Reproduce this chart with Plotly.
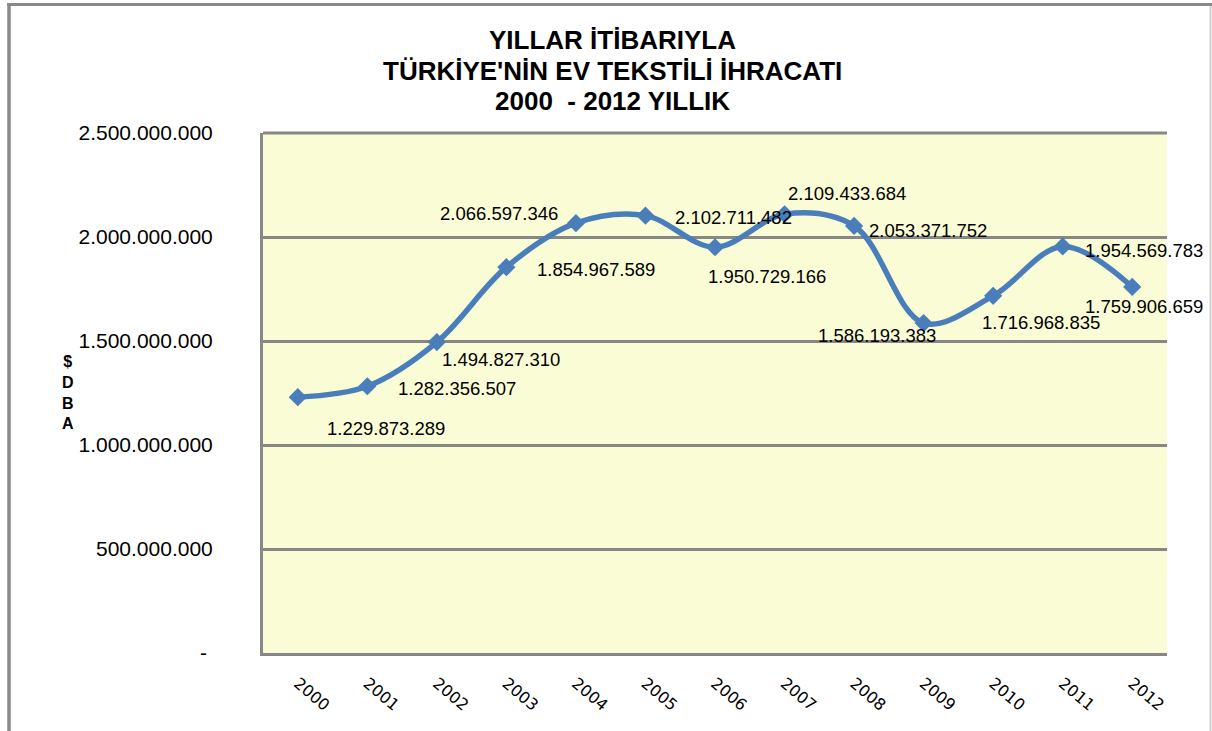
import plotly.graph_objects as go

# ---- data ----
years = ["2000", "2001", "2002", "2003", "2004", "2005", "2006",
         "2007", "2008", "2009", "2010", "2011", "2012"]
exports_usd = [1229873289, 1282356507, 1494827310, 1854967589, 2066597346,
               2102711482, 1950729166, 2109433684, 2053371752, 1586193383,
               1716968835, 1954569783, 1759906659]
y_tick_values = [0, 500000000, 1000000000, 1500000000, 2000000000, 2500000000]
title_lines = ["YILLAR İTİBARIYLA", "TÜRKİYE'NİN EV TEKSTİLİ İHRACATI", "2000  - 2012 YILLIK"]
y_title_letters = ["$", "D", "B", "A"]

# label offsets (pixels, right / down) relative to each point, as in the original
label_offsets = [(88, 31), (90, 2), (64, 17), (90, 2), (-77, -10), (88, 2), (52, 29),
                 (62, -21), (74, 5), (-47, 12), (48, 27), (81, 4), (12, 20)]

def dotted(v):
    return f"{v:,}".replace(",", ".")

y_tick_text = [dotted(v) if v else "-\u00a0" for v in y_tick_values]

W, H = 1212, 731
L, R, T, B = 263, 45, 133, 78
PW, PH = W - L - R, H - T - B

def px_x(p):
    return (p - L) / PW

def px_y(p):
    return (H - B - p) / PH

blue = "#4A7EBB"
grid = "#878787"
FONT = "Liberation Sans, Arial, sans-serif"

fig = go.Figure()
fig.add_trace(go.Scatter(
    x=list(range(len(years))), y=exports_usd, mode="lines+markers",
    line=dict(color=blue, width=5.5, shape="spline", smoothing=1.0),
    marker=dict(symbol="diamond", size=14, color=blue),
    showlegend=False, hoverinfo="y",
))

annotations = []
for i, (v, (dx, dy)) in enumerate(zip(exports_usd, label_offsets)):
    annotations.append(dict(
        x=i, y=v, xref="x", yref="y", text=dotted(v), showarrow=False,
        xshift=dx, yshift=-dy, xanchor="center", yanchor="middle",
        font=dict(family=FONT, size=18.5, color="black"),
    ))

# title: three lines centred at y = 40, 71, 101 px
for line, yy in zip(title_lines, [40, 71, 101]):
    annotations.append(dict(
        x=px_x(612), y=px_y(yy), xref="paper", yref="paper",
        text=line, showarrow=False,
        xanchor="center", yanchor="middle", align="center",
        font=dict(family=FONT, size=26, color="black", weight="bold"),
    ))

# stacked y-axis title ($DBA written letter under letter)
annotations.append(dict(
    x=px_x(67.5), y=px_y(392), xref="paper", yref="paper",
    text="<br>".join(y_title_letters), showarrow=False,
    xanchor="center", yanchor="middle", align="center",
    font=dict(family=FONT, size=16, color="black", weight="bold"),
))

shapes = [
    # top gridline of the plot area (2.500.000.000)
    dict(type="line", xref="paper", yref="paper", x0=0, x1=1, y0=1, y1=1,
         line=dict(color=grid, width=3)),
    # outer chart border
    dict(type="line", xref="paper", yref="paper", x0=px_x(9), x1=px_x(9), y0=px_y(3), y1=px_y(760),
         line=dict(color="#8a8a8a", width=3.5)),
    dict(type="line", xref="paper", yref="paper", x0=px_x(7), x1=px_x(1212), y0=px_y(4.5), y1=px_y(4.5),
         line=dict(color="#8a8a8a", width=3)),
    dict(type="line", xref="paper", yref="paper", x0=px_x(1210.5), x1=px_x(1210.5), y0=px_y(6), y1=px_y(760),
         line=dict(color="#cfcfcf", width=2)),
]

fig.update_layout(
    width=W, height=H,
    margin=dict(l=L, r=R, t=T, b=B, pad=0),
    paper_bgcolor="white",
    plot_bgcolor="#FAFCD5",
    xaxis=dict(
        range=[-0.5, 12.5],
        tickvals=list(range(len(years))), ticktext=years,
        showgrid=False, zeroline=False,
        showline=True, linecolor=grid, linewidth=3,
        ticks="", tickangle=40, ticklabelstandoff=12,
        tickfont=dict(family="DejaVu Sans, Verdana, sans-serif", size=16, color="black"),
    ),
    yaxis=dict(
        range=[0, 2500000000],
        tickvals=y_tick_values, ticktext=y_tick_text,
        showgrid=True, gridcolor=grid, gridwidth=3,
        zeroline=False,
        showline=True, linecolor=grid, linewidth=3,
        ticks="", ticklabelstandoff=43,
        tickfont=dict(family=FONT, size=21, color="black"),
    ),
    annotations=annotations,
    shapes=shapes,
)

fig.write_html(
    "out.html",
    config={"displayModeBar": False},
    post_script="document.body.style.margin='0';document.documentElement.style.overflow='hidden';",
)
